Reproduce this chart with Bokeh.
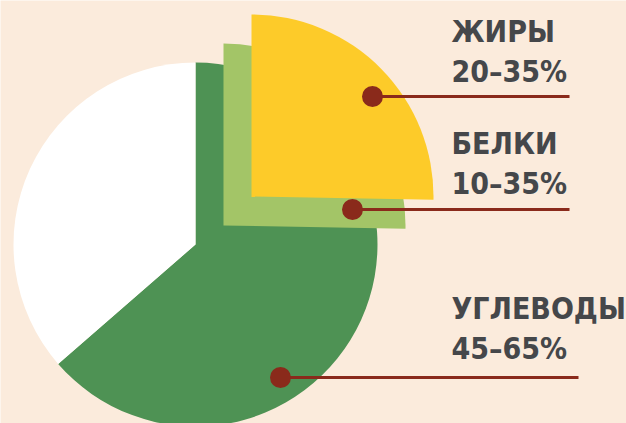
import math
from bokeh.plotting import figure
from bokeh.models import ColumnDataSource, Range1d
from bokeh.core.properties import value
from bokeh.embed import file_html
from bokeh.resources import INLINE

# ---- data ----
labels = ["ЖИРЫ", "БЕЛКИ", "УГЛЕВОДЫ"]
ranges = ["20–35%", "10–35%", "45–65%"]
# main pie: carbohydrates slice vs the rest (degrees of sweep)
main_names = ["УГЛЕВОДЫ", "остальное"]
main_sweep = [229, 131]
# exploded quarter pieces for proteins and fats (degrees of sweep)
piece_names = ["БЕЛКИ", "ЖИРЫ"]
piece_sweep = [91, 91]

# ---- style / layout ----
W, H = 626, 423
BG = "#FBEBDC"
GREEN = "#4E9254"
LIGHT = "#A3C567"
YELLOW = "#FDCB29"
WHITE = "#FFFFFF"
RED = "#8A2A1B"
TEXT = "#45474A"
FONT = value("DejaVu Sans Condensed")

def Y(py):
    return H - py

p = figure(width=W, height=H, output_backend="svg", toolbar_location=None,
           x_range=Range1d(0, W), y_range=Range1d(0, H), min_border=0)
p.axis.visible = False
p.grid.visible = False
p.outline_line_color = None
p.background_fill_color = BG
p.border_fill_color = BG

R = 182
cx, cy = 195, 244
starts, ends = [], []
a = 90.0
for s in main_sweep:
    ends.append(math.radians(a))
    starts.append(math.radians(a - s))
    a -= s
main_src = ColumnDataSource(dict(x=[cx, cx], y=[Y(cy), Y(cy)], start=starts, end=ends,
                                 color=[GREEN, WHITE], name=main_names))
p.wedge(x="x", y="y", radius=R, start_angle="start", end_angle="end",
        fill_color="color", line_color=None, source=main_src)

piece_centers = [(223, 225), (251, 196)]
piece_colors = [LIGHT, YELLOW]
for (px, py), sw, col, nm in zip(piece_centers, piece_sweep, piece_colors, piece_names):
    src = ColumnDataSource(dict(x=[px], y=[Y(py)], start=[math.radians(90 - sw)],
                                end=[math.radians(90)], name=[nm]))
    p.wedge(x="x", y="y", radius=R, start_angle="start", end_angle="end",
            fill_color=col, line_color=None, source=src)

# leader lines and dots
dot_pts = [(372, 96), (352, 209), (280, 377)]
line_end = [569, 569, 578]
for (dx, dy), le in zip(dot_pts, line_end):
    p.segment(x0=[dx], y0=[Y(dy)], x1=[le], y1=[Y(dy)], line_color=RED, line_width=3)
dsrc = ColumnDataSource(dict(x=[d[0] for d in dot_pts], y=[Y(d[1]) for d in dot_pts]))
p.scatter(x="x", y="y", size=21, fill_color=RED, line_color=None, source=dsrc)

# labels
name_base = [31, 143, 308]
range_base = [70.5, 182.5, 347.5]
tx = 451
tsrc = ColumnDataSource(dict(
    x=[tx] * 6,
    y=[Y(b) for b in name_base] + [Y(b) for b in range_base],
    t=labels + ranges))
p.text(x="x", y="y", text="t", source=tsrc, text_font=FONT, text_font_style="bold",
       text_font_size="30px", text_color=TEXT, text_baseline="alphabetic", text_align="left")

open("out.html", "w").write(file_html(p, INLINE))
